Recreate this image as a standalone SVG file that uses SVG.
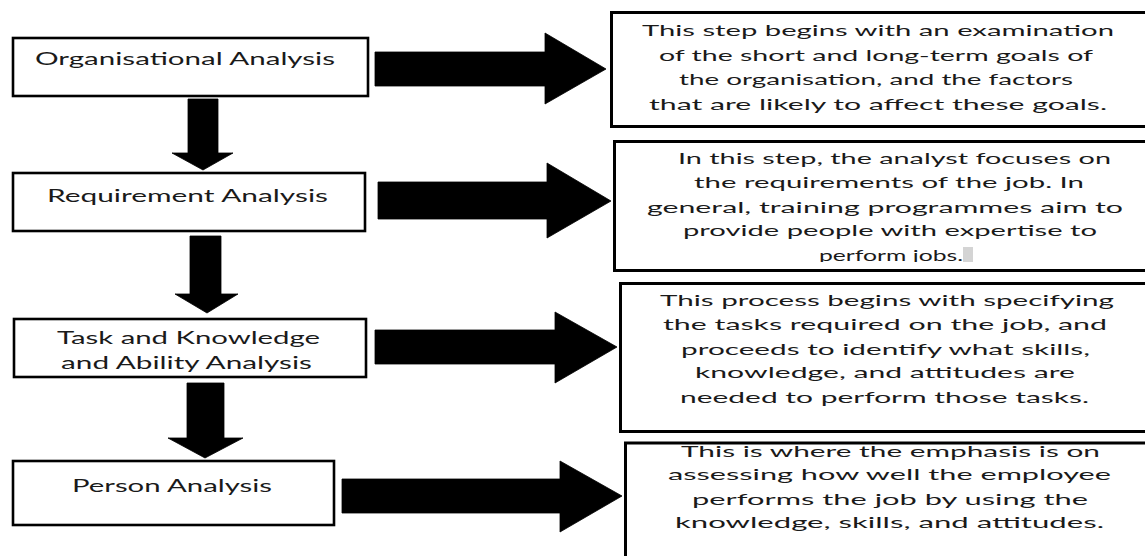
<svg xmlns="http://www.w3.org/2000/svg" width="1145" height="556" viewBox="0 0 1145 556">
  <style>
    .step { fill: #ffffff; stroke: #000000; stroke-width: 2.6; }
    .note { fill: #ffffff; stroke: #000000; stroke-width: 3; }
    .arrow { fill: #000000; stroke: #000000; stroke-width: 0.8; stroke-linejoin: miter; }
    .label { font-family: Lato, "Open Sans", "Liberation Sans", sans-serif; font-size: 17px; fill: #1a1a1a; }
    .body { font-family: Lato, "Open Sans", "Liberation Sans", sans-serif; font-size: 15px; fill: #1a1a1a; }
  </style>
  <defs>
    <clipPath id="clip-req-note">
      <rect x="600" y="130" width="560" height="132"/>
    </clipPath>
  </defs>

  <rect width="1145" height="556" fill="#ffffff"/>

  <!-- connectors: block arrows -->
  <g id="connectors">
    <!-- downward flow between steps -->
    <polygon class="arrow" points="188,99 218,99 218,153 233,153 203,170 172,153 188,153"/>
    <polygon class="arrow" points="190,236 221,236 221,294 238,294 207,313 175,294 190,294"/>
    <polygon class="arrow" points="187,383 224,383 224,438 243,438 205,458 168,438 187,438"/>
    <!-- step to description -->
    <polygon class="arrow" points="375,52 545,52 545,33 606,69 545,104 545,86 375,86"/>
    <polygon class="arrow" points="378,182 547,182 547,163 611,201 547,238 547,219 378,219"/>
    <polygon class="arrow" points="375,330 555,330 555,312 617,347 555,383 555,364 375,364"/>
    <polygon class="arrow" points="342,479 560,479 560,461 622,496 560,532 560,513 342,513"/>
  </g>

  <!-- steps -->
  <g id="organisational-analysis">
    <rect class="step" x="13" y="38" width="355" height="58"/>
    <text class="label" x="35" y="65" textLength="300" lengthAdjust="spacingAndGlyphs">Organisational Analysis</text>
  </g>
  <g id="requirement-analysis">
    <rect class="step" x="13" y="173" width="352" height="58"/>
    <text class="label" x="47" y="202" textLength="281" lengthAdjust="spacingAndGlyphs">Requirement  Analysis</text>
  </g>
  <g id="task-knowledge-ability-analysis">
    <rect class="step" x="14" y="319" width="352" height="58"/>
    <text class="label" x="57" y="344" textLength="263" lengthAdjust="spacingAndGlyphs">Task and Knowledge</text>
    <text class="label" x="61" y="369" textLength="251" lengthAdjust="spacingAndGlyphs">and Ability Analysis</text>
  </g>
  <g id="person-analysis">
    <rect class="step" x="13" y="461" width="321" height="64"/>
    <text class="label" x="72" y="492" textLength="200" lengthAdjust="spacingAndGlyphs">Person Analysis</text>
  </g>

  <!-- descriptions -->
  <g id="organisational-note">
    <rect class="note" x="611.5" y="12.5" width="545" height="114"/>
    <text class="body" x="642" y="36" textLength="472" lengthAdjust="spacingAndGlyphs">This step begins with an examination</text>
    <text class="body" x="659" y="61" textLength="434" lengthAdjust="spacingAndGlyphs">of the short and long-term goals of</text>
    <text class="body" x="679" y="85" textLength="394" lengthAdjust="spacingAndGlyphs">the organisation, and the factors</text>
    <text class="body" x="649" y="110" textLength="458" lengthAdjust="spacingAndGlyphs">that are likely to affect these goals.</text>
  </g>
  <g id="requirement-note">
    <rect class="note" x="614.5" y="141.5" width="545" height="129"/>
    <g clip-path="url(#clip-req-note)">
      <text class="body" x="678" y="164" textLength="433" lengthAdjust="spacingAndGlyphs">In this step, the analyst focuses on</text>
      <text class="body" x="694" y="188" textLength="390" lengthAdjust="spacingAndGlyphs">the requirements of the job. In</text>
      <text class="body" x="647" y="213" textLength="476" lengthAdjust="spacingAndGlyphs">general, training programmes aim to</text>
      <text class="body" x="683" y="236" textLength="414" lengthAdjust="spacingAndGlyphs">provide people with expertise to</text>
      <text class="body" x="819" y="261" textLength="144" lengthAdjust="spacingAndGlyphs">perform jobs.</text>
      <rect x="963" y="247" width="10" height="16" fill="#d4d4d4"/>
    </g>
  </g>
  <g id="task-note">
    <rect class="note" x="620.5" y="283.5" width="540" height="148"/>
    <text class="body" x="660" y="306" textLength="454" lengthAdjust="spacingAndGlyphs">This process begins with specifying</text>
    <text class="body" x="663" y="330" textLength="444" lengthAdjust="spacingAndGlyphs">the tasks required on the job, and</text>
    <text class="body" x="681" y="355" textLength="409" lengthAdjust="spacingAndGlyphs">proceeds to identify what skills,</text>
    <text class="body" x="695" y="378" textLength="380" lengthAdjust="spacingAndGlyphs">knowledge, and attitudes are</text>
    <text class="body" x="680" y="403" textLength="409" lengthAdjust="spacingAndGlyphs">needed to perform those tasks.</text>
  </g>
  <g id="person-note">
    <rect class="note" x="625.5" y="443" width="535" height="130"/>
    <text class="body" x="681" y="457" textLength="419" lengthAdjust="spacingAndGlyphs">This is where the emphasis is on</text>
    <text class="body" x="668" y="480" textLength="443" lengthAdjust="spacingAndGlyphs">assessing how well the employee</text>
    <text class="body" x="692" y="505" textLength="396" lengthAdjust="spacingAndGlyphs">performs the job by using the</text>
    <text class="body" x="675" y="528" textLength="429" lengthAdjust="spacingAndGlyphs">knowledge, skills, and attitudes.</text>
  </g>
</svg>
